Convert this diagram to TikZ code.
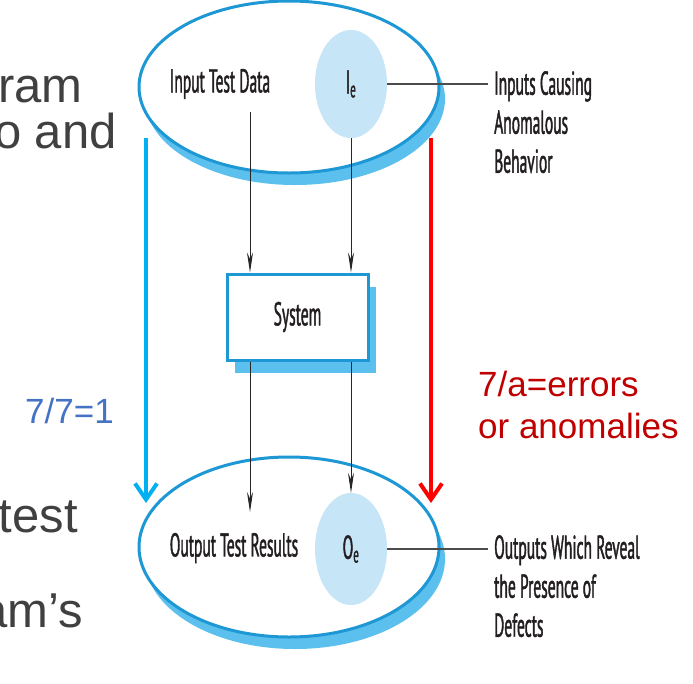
\documentclass[tikz,border=0pt]{standalone}
\usepackage{fontspec}
\setmainfont{Liberation Sans}
\newfontfamily\cond[FakeStretch=0.47,FakeBold=1.2]{PT Sans}
\usetikzlibrary{shapes.geometric,arrows.meta}
\definecolor{ringblue}{HTML}{1E98D4}
\definecolor{shadeblue}{HTML}{5CC0EE}
\definecolor{spotblue}{HTML}{C6E5F7}
\definecolor{arrowcyan}{HTML}{00B0F0}
\definecolor{slidegray}{HTML}{404040}
\definecolor{eqblue}{HTML}{4472C4}
\definecolor{eqred}{HTML}{C00000}
\definecolor{inkdark}{HTML}{231F20}
\begin{document}
\begin{tikzpicture}[x=1pt,y=-1pt,
  ring/.style={ellipse, draw=ringblue, line width=3pt, fill=white, inner sep=0pt, minimum width=300pt},
  ringshade/.style={ellipse, fill=shadeblue, inner sep=0pt, minimum width=300pt},
  spot/.style={ellipse, fill=spotblue, inner sep=0pt, minimum width=72pt, text=inkdark, font=\cond\fontsize{33}{38}\selectfont},
  lbl/.style={inner sep=0pt, font=\cond\fontsize{33}{39}\selectfont, text=inkdark},
  side/.style={lbl, align=left, anchor=north west},
  flow/.style={draw=black!85, line width=1pt, -{Stealth[length=20pt,width=6pt]}},
  lead/.style={draw=black!70, line width=1.5pt},
  slide/.style={inner sep=0pt, anchor=base east, text=slidegray, font=\fontsize{49}{55}\selectfont},
  eq/.style={inner sep=0pt, font=\fontsize{35}{42}\selectfont},
  big/.style={line width=4pt, -{Straight Barb[length=16pt,width=22pt]}}
]
\clip (0,0) rectangle (693,683);
\fill[white] (0,0) rectangle (693,683);
% slide text fragments
\node[slide] (s1) at (83,102) {ram};
\node[slide] (s2) at (117,148) {o and};
\node[slide] (s3) at (78,532) {test};
\node[slide] (s4) at (83,627) {am’s};
% top ellipse
\node[ringshade, minimum height=172pt] (topshade) at (295,99) {};
\node[ring, minimum height=172pt] (top) at (289,87) {};
\node[spot, minimum height=108pt] (ie) at (351,84) {I\textsubscript{e}};
\node[lbl] (itd) at (220,84) {Input Test Data};
% bottom ellipse
\node[ringshade, minimum height=180pt] (botshade) at (295,559) {};
\node[ring, minimum height=180pt] (bot) at (289,547) {};
\node[spot, minimum height=112pt] (oe) at (351,549) {O\textsubscript{e}};
\node[lbl] (otr) at (234,548) {Output Test Results};
% system box
\fill[shadeblue] (235,287) rectangle (376,373);
\node[lbl, draw=ringblue, line width=3pt, fill=white, minimum width=141pt, minimum height=86pt] (sys) at (297.5,317) {System};
% flows
\coordinate (c1) at (250,112);
\coordinate (c2) at (250,512);
\draw[flow] (c1) -- (c1 |- sys.north);
\draw[flow] (ie.south) -- (ie.south |- sys.north);
\draw[flow] (c2 |- sys.south) -- (c2);
\draw[flow] (oe.north |- sys.south) -- (oe.north);
% side labels
\node[side] (inl) at (494,71) {Inputs Causing\\Anomalous\\Behavior};
\node[side] (outl) at (494,535) {Outputs Which Reveal\\the Presence of\\Defects};
\coordinate (l1) at (488,84);
\coordinate (l2) at (488,549);
\draw[lead] (ie.east) -- (ie.east -| l1);
\draw[lead] (oe.east) -- (oe.east -| l2);
% big arrows
\coordinate (b1) at (146,138);
\coordinate (b2) at (146,503);
\coordinate (r1) at (431,138);
\coordinate (r2) at (431,503);
\draw[big, arrowcyan] (b1) -- (b2);
\draw[big, red] (r1) -- (r2);
% equations
\node[eq, text=eqblue, anchor=base west] (e1) at (25,423) {7/7=1};
\node[eq, text=eqred, align=left, anchor=north west] (e2) at (478,371) {7/a=errors\\or anomalies};
\end{tikzpicture}
\end{document}
